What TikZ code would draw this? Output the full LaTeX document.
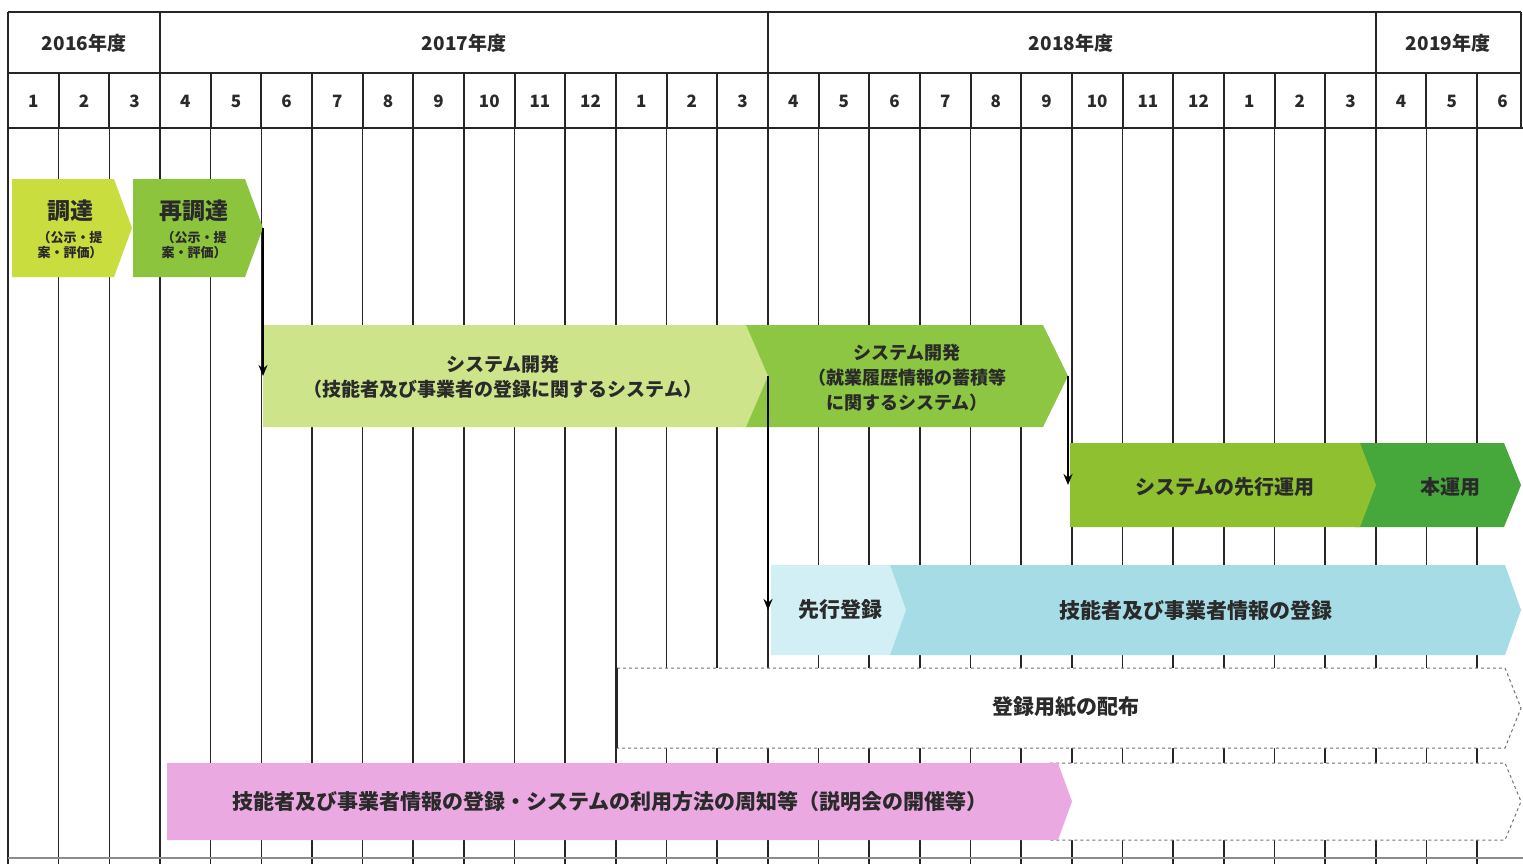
\documentclass[tikz,border=0pt]{standalone}
\usepackage{fontspec}
\setmainfont{Noto Sans CJK JP}
\usetikzlibrary{arrows.meta}
\definecolor{cA}{HTML}{C9DE3E}
\definecolor{cB}{HTML}{8CC43E}
\definecolor{cC}{HTML}{CDE48A}
\definecolor{cD}{HTML}{8DC642}
\definecolor{cE}{HTML}{8EC02F}
\definecolor{cF}{HTML}{46A83A}
\definecolor{cG}{HTML}{D2EFF5}
\definecolor{cH}{HTML}{A5DCE6}
\definecolor{cI}{HTML}{EAA9E0}
\definecolor{txt}{HTML}{2A2A2A}
% name, x1, y1, x2, y2, tip, style
\newcommand\chevbar[7]{%
  \path[#7] (#2,#3) -- ({#4-#6},#3) -- (#4,{(#3+#5)/2}) -- ({#4-#6},#5) -- (#2,#5) -- cycle;
  \coordinate (#1-w) at (#2,{(#3+#5)/2});
  \coordinate (#1-e) at (#4,{(#3+#5)/2});
}
\tikzset{
  gridline/.style={line width=1.6pt, black!85},
  hdrline/.style={line width=2pt, black!85},
  hdrtext/.style={font=\fontsize{17}{20}\selectfont\bfseries, text=txt},
  yeartext/.style={font=\fontsize{19}{22}\selectfont\bfseries, text=txt},
  bartext/.style={font=\fontsize{20}{26}\selectfont\bfseries, text=txt, align=center, inner sep=0pt},
  smalltext/.style={font=\fontsize{13}{15}\selectfont\bfseries, text=txt, align=center, inner sep=0pt},
  titletext/.style={font=\fontsize{23}{26}\selectfont\bfseries, text=txt, inner sep=0pt},
  dashbox/.style={fill=white, draw=black!55, dashed, line width=1pt},
  flow/.style={line width=2.2pt, black, -{Stealth[length=11pt,width=9pt]}}
}
\begin{document}
\begin{tikzpicture}[x=1pt,y=-1pt]
\useasboundingbox (0,0) rectangle (1523,864);
\fill[white] (0,0) rectangle (1523,864);
% body grid
\foreach \i in {0,...,29} {
  \draw[gridline] ({8+50.66*\i},128) -- ({8+50.66*\i},864);
}
\draw[black!45, line width=2pt] (8,858) -- (1523,858);
% header
\draw[hdrline] (8,12) -- (1521,12);
\draw[hdrline] (8,73) -- (1521,73);
\draw[hdrline] (8,128) -- (1523,128);
\draw[hdrline] (1521,12) -- (1521,128);
\foreach \i in {0,3,15,27} {
  \draw[hdrline] ({8+50.66*\i},12) -- ({8+50.66*\i},73);
}
\foreach \i in {0,...,29} {
  \draw[hdrline] ({8+50.66*\i},73) -- ({8+50.66*\i},128);
  \pgfmathtruncatemacro\m{mod(\i,12)+1}
  \node[hdrtext] (m\i) at ({8+50.66*(\i+0.5)},101) {\m};
}
\node[yeartext] (y2016) at (84,43) {2016年度};
\node[yeartext] (y2017) at (464,43) {2017年度};
\node[yeartext] (y2018) at (1071,43) {2018年度};
\node[yeartext] (y2019) at (1448,43) {2019年度};
% bars
\chevbar{proc}{12}{179}{132}{277}{18}{fill=cA}
\chevbar{redo}{133}{179}{263}{277}{18}{fill=cB}
\chevbar{sysb}{745}{325}{1068}{427}{25}{fill=cD}
\chevbar{sysa}{263}{325}{768}{427}{22}{fill=cC}
\chevbar{live}{1355}{443}{1521}{527}{17}{fill=cF}
\chevbar{trial}{1070}{443}{1376}{527}{16}{fill=cE}
\chevbar{reg}{890}{565}{1521}{655}{16}{fill=cH}
\chevbar{pre}{771}{565}{906}{655}{16}{fill=cG}
\chevbar{dist}{617}{668}{1521}{748}{16}{dashbox}
\draw[line width=1.6pt, black!85] (617,668) -- (617,748);
\chevbar{pinkc}{1050}{763}{1521}{840}{16}{dashbox}
\chevbar{pink}{167}{763}{1072}{840}{14}{fill=cI}
% texts
\node[titletext] (tproc) at (70,211) {調達};
\node[smalltext] (sproc) at (70,245) {（公示・提\\案・評価）};
\node[titletext] (tredo) at (194,211) {再調達};
\node[smalltext] (sredo) at (194,245) {（公示・提\\案・評価）};
\node[bartext, font=\fontsize{19}{25}\selectfont\bfseries] (tsysa) at (503,377) {システム開発\\（技能者及び事業者の登録に関するシステム）};
\node[bartext, font=\fontsize{18}{25}\selectfont\bfseries] (tsysb) at (907,378) {システム開発\\（就業履歴情報の蓄積等\\に関するシステム）};
\node[bartext] (ttrial) at (1225,487) {システムの先行運用};
\node[bartext] (tlive) at (1450,487) {本運用};
\node[bartext, font=\fontsize{21}{26}\selectfont\bfseries] (tpre) at (840,610) {先行登録};
\node[bartext, font=\fontsize{21}{26}\selectfont\bfseries] (treg) at (1196,610) {技能者及び事業者情報の登録};
\node[bartext, font=\fontsize{21}{26}\selectfont\bfseries] (tdist) at (1066,707) {登録用紙の配布};
\node[bartext, font=\fontsize{21}{26}\selectfont\bfseries] (tpink) at (610,802) {技能者及び事業者情報の登録・システムの利用方法の周知等（説明会の開催等）};
% connectors
\draw[flow] (redo-e) -- (redo-e |- sysa-w);
\draw[flow] (sysa-e) -- (sysa-e |- pre-w);
\draw[flow] (sysb-e) -- (sysb-e |- trial-w);
\end{tikzpicture}
\end{document}
